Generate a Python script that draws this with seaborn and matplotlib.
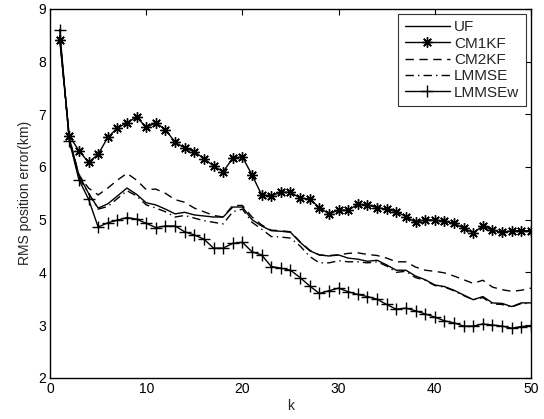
import matplotlib
matplotlib.use("Agg")
import matplotlib.pyplot as plt
import seaborn as sns
import pandas as pd
import numpy as np

k = list(range(1, 51))

uf = [8.50, 6.55, 5.85, 5.50, 5.22, 5.30, 5.45, 5.60, 5.48, 5.32,
      5.28, 5.20, 5.11, 5.14, 5.09, 5.07, 5.05, 5.05, 5.24, 5.24,
      5.00, 4.88, 4.79, 4.78, 4.76, 4.57, 4.41, 4.33, 4.31, 4.33,
      4.27, 4.25, 4.21, 4.23, 4.14, 4.04, 4.04, 3.93, 3.86, 3.76,
      3.73, 3.66, 3.57, 3.48, 3.54, 3.42, 3.41, 3.35, 3.42, 3.42]

cm1kf = [8.42, 6.59, 6.31, 6.09, 6.24, 6.56, 6.74, 6.84, 6.95, 6.75,
         6.84, 6.71, 6.47, 6.36, 6.29, 6.16, 6.02, 5.91, 6.17, 6.19,
         5.85, 5.47, 5.45, 5.52, 5.52, 5.41, 5.39, 5.23, 5.11, 5.18,
         5.18, 5.29, 5.28, 5.23, 5.20, 5.15, 5.06, 4.95, 5.00, 4.99,
         4.97, 4.93, 4.84, 4.75, 4.88, 4.80, 4.76, 4.79, 4.79, 4.79]

cm2kf = [8.50, 6.55, 5.85, 5.60, 5.47, 5.60, 5.75, 5.88, 5.75, 5.57,
         5.58, 5.50, 5.38, 5.33, 5.22, 5.15, 5.08, 5.05, 5.27, 5.27,
         5.05, 4.90, 4.80, 4.79, 4.77, 4.58, 4.42, 4.33, 4.32, 4.33,
         4.36, 4.37, 4.34, 4.32, 4.27, 4.20, 4.20, 4.10, 4.04, 4.02,
         3.99, 3.93, 3.86, 3.79, 3.85, 3.72, 3.67, 3.64, 3.66, 3.70]

lmmse = [8.50, 6.50, 5.80, 5.50, 5.20, 5.25, 5.40, 5.55, 5.45, 5.28,
         5.22, 5.15, 5.05, 5.08, 5.03, 4.98, 4.95, 4.92, 5.15, 5.20,
         4.95, 4.82, 4.68, 4.67, 4.65, 4.50, 4.30, 4.18, 4.18, 4.22,
         4.20, 4.20, 4.18, 4.20, 4.12, 4.00, 4.02, 3.90, 3.85, 3.75,
         3.72, 3.65, 3.56, 3.48, 3.52, 3.40, 3.39, 3.34, 3.41, 3.41]

lmmsew = [8.61, 6.50, 5.76, 5.39, 4.86, 4.94, 4.99, 5.04, 5.01, 4.93,
          4.85, 4.88, 4.88, 4.77, 4.71, 4.63, 4.46, 4.46, 4.55, 4.57,
          4.39, 4.33, 4.11, 4.08, 4.04, 3.90, 3.74, 3.60, 3.65, 3.70,
          3.63, 3.58, 3.54, 3.49, 3.39, 3.30, 3.32, 3.27, 3.21, 3.15,
          3.08, 3.04, 2.98, 2.98, 3.02, 3.00, 2.98, 2.94, 2.97, 2.99]

names = ["UF", "CM1KF", "CM2KF", "LMMSE", "LMMSEw"]
series = [uf, cm1kf, cm2kf, lmmse, lmmsew]

sns.set_style("white")
plt.rcParams['font.family'] = ['Liberation Sans', 'DejaVu Sans']

fig = plt.figure(figsize=(5.44, 4.19), dpi=100)
ax = fig.add_axes([0.092, 0.0986, 0.884, 0.880])

styles = {
    "UF": dict(linestyle="-"),
    "CM1KF": dict(linestyle="-", marker=(8, 2, 0), markersize=7.5,
                  markeredgecolor="black", markeredgewidth=1.0),
    "CM2KF": dict(linestyle=(0, (6, 4))),
    "LMMSE": dict(linestyle=(0, (6, 3, 1, 3))),
    "LMMSEw": dict(linestyle="-", marker="+", markersize=8,
                   markeredgecolor="black", markeredgewidth=1.0),
}

for name, vals in zip(names, series):
    df = pd.DataFrame({"k": k, "err": vals})
    sns.lineplot(data=df, x="k", y="err", ax=ax, color="black", linewidth=1.0,
                 label=name, **styles[name])

ax.set_xlim(0, 50)
ax.set_ylim(2, 9)
ax.set_xticks([0, 10, 20, 30, 40, 50])
ax.set_yticks([2, 3, 4, 5, 6, 7, 8, 9])
ax.tick_params(direction="in", top=True, right=True, length=4, width=0.8,
               labelsize=10, colors="black", pad=3)
for s in ax.spines.values():
    s.set_color("black")
    s.set_linewidth(1.0)
ax.set_xlabel("k", fontsize=10, labelpad=2)
ax.set_ylabel("RMS position error(km)", fontsize=10, labelpad=4)

leg = ax.legend(loc="upper right", fontsize=11, frameon=True, fancybox=False,
                edgecolor="black", handlelength=3.0, labelspacing=0.15,
                borderpad=0.4, borderaxespad=0.35, handletextpad=0.25)
leg.get_frame().set_linewidth(0.8)

fig.savefig("out.png", dpi=100)
